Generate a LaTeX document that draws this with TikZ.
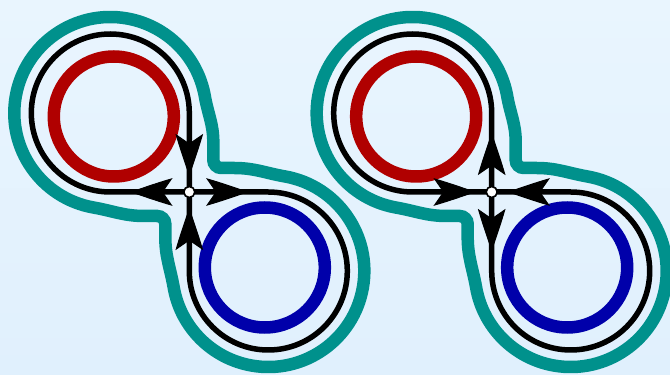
\documentclass[tikz,border=0pt]{standalone}
\usetikzlibrary{calc}
\definecolor{bgtop}{RGB}{233,245,254}
\definecolor{bgbot}{RGB}{224,240,253}
\definecolor{tealc}{RGB}{0,145,140}
\definecolor{redc}{RGB}{176,0,0}
\definecolor{bluec}{RGB}{0,0,170}
\newcommand\myarrowshape{(0pt,0pt) .. controls (-12pt,4pt) and (-26pt,9pt) .. (-40pt,13pt) -- (-31pt,0pt) -- (-40pt,-13pt) .. controls (-26pt,-9pt) and (-12pt,-4pt) .. cycle}
\begin{document}
\begin{tikzpicture}[x=1pt,y=1pt,
  tealline/.style={draw=tealc,line width=12.5pt},
  ring/.style={line width=12.5pt},
  loopline/.style={draw=black,line width=5.5pt},
  hub/.style={circle,draw=black,fill=white,line width=1.6pt,inner sep=0pt,minimum size=11pt},
  headfill/.style={fill=black,draw=black,line width=1pt,line join=miter}]
\useasboundingbox (0,0) rectangle (670,375);
\shade[top color=bgtop,bottom color=bgbot] (0,0) rectangle (670,375);
\clip (0,0) rectangle (670,375);
% ---------- left figure ----------
\begin{scope}[shift={(189.3,183)}]
  \coordinate (ca) at (0,0);
  \coordinate (tsa) at ($(-79,79)+(260:96)$);
  \draw[tealline] (tsa) arc[start angle=260,end angle=10,radius=96]
     to[out=-80,in=90] (24,50) -- (24,32) arc[start angle=180,end angle=270,radius=8]
     -- (45,24) to[out=0,in=170] ($(79,-79)+(80:96)$)
     arc[start angle=80,end angle=-170,radius=96]
     to[out=100,in=-90] (-24,-45) -- (-24,-32) arc[start angle=0,end angle=90,radius=8]
     -- (-45,-24) to[out=180,in=-10] (tsa) -- cycle;
  \draw[ring,draw=redc] (-75.5,75.5) circle[radius=60];
  \draw[ring,draw=bluec] (75.5,-75.5) circle[radius=60];
  \draw[loopline] (ca) -- ++(-79,0) arc[start angle=270,end angle=0,radius=79] -- (ca);
  \draw[loopline] (ca) -- ++(79,0) arc[start angle=90,end angle=-180,radius=79] -- (ca);
  \filldraw[headfill,shift={(-58,0)},rotate=180] \myarrowshape;
  \filldraw[headfill,shift={(58,0)}] \myarrowshape;
  \filldraw[headfill,shift={(0,17)},rotate=-90] \myarrowshape;
  \filldraw[headfill,shift={(0,-17)},rotate=90] \myarrowshape;
  \node[hub] (hubA) at (ca) {};
\end{scope}
% ---------- right figure ----------
\begin{scope}[shift={(491.7,183)}]
  \coordinate (cb) at (0,0);
  \coordinate (tsb) at ($(-79,79)+(260:96)$);
  \draw[tealline] (tsb) arc[start angle=260,end angle=10,radius=96]
     to[out=-80,in=90] (24,50) -- (24,32) arc[start angle=180,end angle=270,radius=8]
     -- (45,24) to[out=0,in=170] ($(79,-79)+(80:96)$)
     arc[start angle=80,end angle=-170,radius=96]
     to[out=100,in=-90] (-24,-45) -- (-24,-32) arc[start angle=0,end angle=90,radius=8]
     -- (-45,-24) to[out=180,in=-10] (tsb) -- cycle;
  \draw[ring,draw=redc] (-75.5,75.5) circle[radius=60];
  \draw[ring,draw=bluec] (75.5,-75.5) circle[radius=60];
  \draw[loopline] (cb) -- ++(-79,0) arc[start angle=270,end angle=0,radius=79] -- (cb);
  \draw[loopline] (cb) -- ++(79,0) arc[start angle=90,end angle=-180,radius=79] -- (cb);
  \filldraw[headfill,shift={(-17,0)}] \myarrowshape;
  \filldraw[headfill,shift={(17,0)},rotate=180] \myarrowshape;
  \filldraw[headfill,shift={(0,58)},rotate=90] \myarrowshape;
  \filldraw[headfill,shift={(0,-58)},rotate=-90] \myarrowshape;
  \node[hub] (hubB) at (cb) {};
\end{scope}
\end{tikzpicture}
\end{document}
